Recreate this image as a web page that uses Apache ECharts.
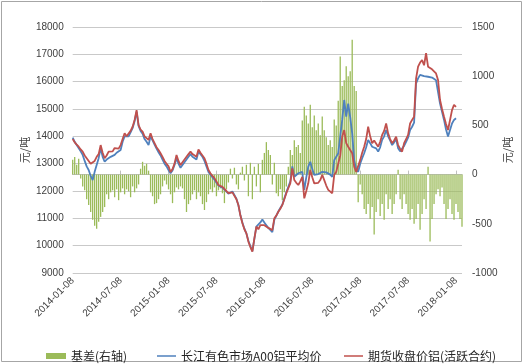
<!DOCTYPE html>
<html><head><meta charset="utf-8">
<script src="https://cdn.jsdelivr.net/npm/echarts@6/dist/echarts.min.js"></script>
<style>html,body{margin:0;padding:0;background:#fff}#c{width:523px;height:364px}</style>
</head><body><div id="c"></div>
<script>
// x categories: 4 samples per month, 2014-01 .. 2018-01
const months = [];
for (let y = 2014; y <= 2018; y++) for (let m = 1; m <= 12; m++) { if (y === 2018 && m > 1) break; months.push(y + '-' + String(m).padStart(2, '0')); }
const days = ['08', '15', '22', '29'];
const categories = [];
months.forEach(function (mo) { days.forEach(function (d) { categories.push(mo + '-' + (mo.slice(5) === '02' && d === '29' ? '28' : d)); }); });

const leftTicks = [9000, 18000, 1000];
const rightTicks = [-1000, 1500, 500];
const seriesNames = ['基差(右轴)', '长江有色市场A00铝平均价', '期货收盘价铝(活跃合约)'];

const futures = [13900,13780,13700,13620,13520,13440,13300,13200,13130,13000,12950,13100,13250,13350,13680,13400,13200,13300,13440,13500,13450,13570,13600,13550,13680,13900,14110,14000,14050,14200,14350,14600,14960,14410,14250,14170,14000,13950,13870,14110,13900,13750,13600,13500,13380,13250,13100,13000,12900,12700,12800,13000,13320,13100,12950,13050,13150,13250,13350,13440,13350,13300,13250,13520,13400,13300,13200,13000,12770,12650,12550,12470,12350,12220,12180,12150,12100,12000,11920,11880,11950,11920,11700,11490,11100,10820,10600,10450,10150,9950,9780,10270,10700,10600,10750,10820,10750,10690,10650,10600,10570,11000,11100,11240,11350,11490,11700,11920,12100,12280,12830,12400,12300,12220,12350,12520,11730,12000,12280,12770,12500,12280,12350,12300,12400,12590,12400,12200,12040,11980,11920,12590,12700,12770,13300,13990,14230,13750,13620,13500,13380,12890,12700,12650,13130,13400,13620,13900,14350,14000,13750,13850,13920,13620,13800,14050,14200,14470,14110,13900,13750,13850,13990,13680,13550,13440,13750,13900,14050,14470,14600,14720,16120,16550,16700,16790,16600,17040,16550,16500,16450,16420,16300,16060,15330,15000,14720,14450,14230,14200,14960,15150,15080];

const spot = [13950,13800,13680,13620,13450,13320,13100,12900,12770,12550,12400,12700,12950,13200,13570,13250,13070,13150,13200,13250,13250,13320,13400,13400,13500,13800,14000,13950,14000,14150,14300,14550,14900,14380,14200,14100,13900,13800,13680,14000,13850,13700,13550,13420,13300,13150,13000,12900,12770,12650,12750,12950,13200,13000,12850,12950,13050,13150,13250,13350,13250,13200,13150,13450,13350,13250,13100,12900,12700,12600,12500,12420,12300,12200,12150,12120,12080,11980,11900,11900,11980,11950,11720,11480,11120,10850,10620,10450,10180,9980,9800,10250,10700,10700,10850,10960,10850,10750,10650,10580,10500,10950,11100,11250,11380,11500,11730,11950,12150,12350,12900,12520,12500,12650,12600,12700,12040,12500,12890,13070,12800,12590,12600,12620,12650,12700,12700,12680,12650,12600,12520,13130,13250,13380,14000,14600,15330,14720,15200,14700,14110,13130,12800,12700,13000,13200,13380,13600,13870,13750,13620,13580,13560,13440,13600,13870,14000,14230,14000,13850,13680,13780,13900,13560,13450,13380,13650,13800,13950,14230,14350,14500,15940,16120,16250,16300,16200,16240,16180,16150,16150,16120,16050,16000,15200,14900,14600,14250,13990,13930,14470,14600,14660];

const basis = [150,180,100,160,-40,-120,-160,-250,-310,-380,-460,-520,-550,-480,-430,-380,-330,-200,-250,-180,-160,-230,-150,-260,-180,-140,-200,-150,-170,-230,-120,-180,-140,-100,60,130,90,110,40,-180,-220,-300,-290,-250,-200,-120,-60,-100,-150,-200,-290,-180,-130,-150,-120,-140,-250,-380,-300,-260,-200,-160,-250,-180,-220,-300,-360,-280,-200,-150,-180,-130,-220,-160,-140,-190,-290,-150,-80,60,-40,70,-100,-150,20,80,-60,100,-220,120,-250,80,-120,110,-180,150,220,330,250,200,-100,120,-190,-220,-150,-260,-180,-120,80,250,200,350,280,300,220,550,690,600,520,710,480,600,450,520,400,590,450,380,300,350,280,560,500,750,1200,900,960,1100,1000,1050,1370,900,850,-280,-100,-200,-350,-400,-300,-450,-330,-610,-380,-250,-420,-300,-460,-200,-350,-250,-400,-300,-200,50,-250,-350,-200,-300,-400,-460,-350,-500,-450,-300,-560,-400,-250,-350,80,-680,-450,-300,-200,-150,-220,-130,-300,-450,-350,-250,-400,-460,-300,-380,-450,-530];

const numFont = 'Liberation Sans';
const cjkFont = 'Noto Sans CJK SC';
const plain = function (v) { return String(v); };
const chart = echarts.init(document.getElementById('c'), null, { renderer: 'canvas' });
function legendAt(left, name, w, h) {
  return { left: left, top: 345, data: [{ name: name, icon: 'rect' }], itemWidth: w, itemHeight: h, itemGap: 4,
    textStyle: { fontFamily: cjkFont, fontSize: 12, color: '#262626', padding: [0, 0, 0, 0] } };
}
chart.setOption({
  animation: false,
  backgroundColor: '#fff',
  graphic: [{ type: 'rect', shape: { x: 1.5, y: 1.5, width: 520, height: 360 }, style: { fill: 'none', stroke: '#a6a6a6', lineWidth: 1 }, silent: true }],
  legend: [legendAt(41, seriesNames[0], 20, 6), legendAt(152, seriesNames[1], 19, 1.5), legendAt(339, seriesNames[2], 19, 1.5)],
  grid: { left: 72.7, right: 61, top: 27, bottom: 91, containLabel: false },
  xAxis: {
    type: 'category', data: categories, boundaryGap: false,
    axisLine: { lineStyle: { color: '#bfbfbf' } },
    axisTick: { inside: true, length: 4, interval: 23, lineStyle: { color: '#bfbfbf' } },
    axisLabel: { interval: 23, rotate: 45, fontFamily: numFont, fontSize: 10, color: '#404040', margin: 6 }
  },
  yAxis: [{
    type: 'value', min: leftTicks[0], max: leftTicks[1], interval: leftTicks[2],
    name: '元/吨', nameLocation: 'middle', nameGap: 42, nameRotate: 90, nameMoveOverlap: false,
    nameTextStyle: { fontFamily: cjkFont, fontSize: 11, color: '#404040' },
    axisLine: { show: false }, axisTick: { show: false },
    axisLabel: { fontFamily: numFont, fontSize: 10, color: '#404040', margin: 9, formatter: plain },
    splitLine: { lineStyle: { color: '#c9c9c9' } }
  }, {
    type: 'value', min: rightTicks[0], max: rightTicks[1], interval: rightTicks[2], position: 'right',
    name: '元/吨', nameLocation: 'middle', nameGap: 40, nameRotate: 90, nameMoveOverlap: false,
    nameTextStyle: { fontFamily: cjkFont, fontSize: 11, color: '#404040' },
    axisLine: { show: false }, axisTick: { show: false },
    axisLabel: { fontFamily: numFont, fontSize: 10, color: '#404040', margin: 10, formatter: plain },
    splitLine: { show: false }
  }],
  series: [{
    name: seriesNames[0], type: 'bar', yAxisIndex: 1, data: basis, barWidth: 1.3,
    itemStyle: { color: '#9bbb59' }
  }, {
    name: seriesNames[1], type: 'line', data: spot, showSymbol: false, symbol: 'none',
    lineStyle: { color: '#4f81bd', width: 1.8 }, itemStyle: { color: '#4f81bd' }
  }, {
    name: seriesNames[2], type: 'line', data: futures, showSymbol: false, symbol: 'none',
    lineStyle: { color: '#c0504d', width: 1.8 }, itemStyle: { color: '#c0504d' }
  }]
});
</script></body></html>
